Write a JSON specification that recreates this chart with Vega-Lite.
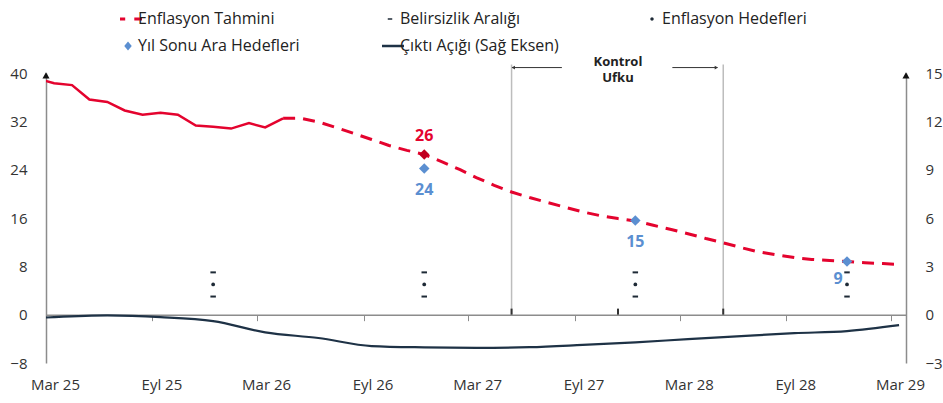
{
  "$schema": "https://vega.github.io/schema/vega-lite/v6.json",
  "width": 860,
  "height": 290,
  "autosize": {"type": "none"},
  "padding": {"left": 46, "top": 73, "right": 37, "bottom": 40},
  "background": "white",
  "config": {
    "view": {"stroke": null},
    "font": "Open Sans",
    "axis": {"grid": false, "labelFont": "Open Sans", "labelFontSize": 15, "labelColor": "#333333", "domainColor": "#8c8c8c", "domainWidth": 1.5, "tickColor": "#8c8c8c", "title": null}
  },
  "datasets": {
    "actual": [
      {"date": "2025-02-15", "v": 39.05},
      {"date": "2025-03-15", "v": 38.3},
      {"date": "2025-04-15", "v": 38.0},
      {"date": "2025-05-15", "v": 35.6},
      {"date": "2025-06-15", "v": 35.2},
      {"date": "2025-07-15", "v": 33.8},
      {"date": "2025-08-15", "v": 33.1},
      {"date": "2025-09-15", "v": 33.4},
      {"date": "2025-10-15", "v": 33.1},
      {"date": "2025-11-15", "v": 31.3},
      {"date": "2025-12-15", "v": 31.1},
      {"date": "2026-01-15", "v": 30.8},
      {"date": "2026-02-15", "v": 31.7},
      {"date": "2026-03-15", "v": 31.0},
      {"date": "2026-04-15", "v": 32.5}
    ],
    "forecast": [
      {"date": "2026-04-15", "v": 32.5},
      {"date": "2026-05-15", "v": 32.5},
      {"date": "2026-06-15", "v": 31.9},
      {"date": "2026-07-15", "v": 31.0},
      {"date": "2026-08-15", "v": 30.0},
      {"date": "2026-09-15", "v": 29.0},
      {"date": "2026-10-15", "v": 28.0},
      {"date": "2026-11-15", "v": 27.2},
      {"date": "2026-12-15", "v": 26.5},
      {"date": "2027-01-15", "v": 25.3},
      {"date": "2027-02-15", "v": 24.0},
      {"date": "2027-03-15", "v": 22.7},
      {"date": "2027-04-15", "v": 21.4},
      {"date": "2027-05-15", "v": 20.3},
      {"date": "2027-06-15", "v": 19.4},
      {"date": "2027-07-15", "v": 18.6},
      {"date": "2027-08-15", "v": 17.8},
      {"date": "2027-09-15", "v": 17.0},
      {"date": "2027-10-15", "v": 16.4},
      {"date": "2027-11-15", "v": 15.9},
      {"date": "2027-12-15", "v": 15.5},
      {"date": "2028-01-15", "v": 14.8},
      {"date": "2028-02-15", "v": 14.1},
      {"date": "2028-03-15", "v": 13.4},
      {"date": "2028-04-15", "v": 12.6},
      {"date": "2028-05-15", "v": 11.9},
      {"date": "2028-06-15", "v": 11.1},
      {"date": "2028-07-15", "v": 10.4},
      {"date": "2028-08-15", "v": 9.9},
      {"date": "2028-09-15", "v": 9.45},
      {"date": "2028-10-15", "v": 9.15},
      {"date": "2028-11-15", "v": 8.95},
      {"date": "2028-12-15", "v": 8.8},
      {"date": "2029-01-15", "v": 8.6},
      {"date": "2029-02-15", "v": 8.45},
      {"date": "2029-03-15", "v": 8.3}
    ],
    "gap": [
      {"date": "2025-02-15", "v": -0.2},
      {"date": "2025-03-15", "v": -0.15},
      {"date": "2025-06-15", "v": -0.05},
      {"date": "2025-09-15", "v": -0.15},
      {"date": "2025-12-15", "v": -0.4},
      {"date": "2026-03-15", "v": -1.1},
      {"date": "2026-06-15", "v": -1.45},
      {"date": "2026-09-15", "v": -1.95},
      {"date": "2026-12-15", "v": -2.03},
      {"date": "2027-03-15", "v": -2.06},
      {"date": "2027-06-15", "v": -2.02},
      {"date": "2027-09-15", "v": -1.88},
      {"date": "2027-12-15", "v": -1.72},
      {"date": "2028-03-15", "v": -1.52},
      {"date": "2028-06-15", "v": -1.33},
      {"date": "2028-09-15", "v": -1.15},
      {"date": "2028-12-15", "v": -1.02},
      {"date": "2029-03-15", "v": -0.65}
    ],
    "band": [
      {"date": "2025-12-15", "v": 3}, {"date": "2025-12-15", "v": 7},
      {"date": "2026-12-15", "v": 3}, {"date": "2026-12-15", "v": 7},
      {"date": "2027-12-15", "v": 3}, {"date": "2027-12-15", "v": 7},
      {"date": "2028-12-15", "v": 3}, {"date": "2028-12-15", "v": 7}
    ],
    "targets": [
      {"date": "2025-12-15", "v": 5},
      {"date": "2026-12-15", "v": 5},
      {"date": "2027-12-15", "v": 5},
      {"date": "2028-12-15", "v": 5}
    ],
    "interim": [
      {"date": "2026-12-15", "v": 24.2, "lab": "24"},
      {"date": "2027-12-15", "v": 15.6, "lab": "15"},
      {"date": "2028-12-15", "v": 8.8, "lab": "9"}
    ],
    "yearend": [
      {"date": "2026-12-15", "v": 26.5, "lab": "26"}
    ],
    "horizon": [
      {"date": "2027-05-15"},
      {"date": "2028-05-15"}
    ],
    "horizonTicks": [
      {"date": "2027-05-15"},
      {"date": "2027-11-15"},
      {"date": "2028-05-15"}
    ],
    "arrows": [
      {"a": "2027-05-16", "b": "2027-08-10", "v": 40.9},
      {"a": "2028-02-17", "b": "2028-05-05", "v": 40.9}
    ],
    "arrowHeads": [
      {"date": "2027-05-18", "v": 40.9, "dir": "triangle-left"},
      {"date": "2028-05-03", "v": 40.9, "dir": "triangle-right"}
    ],
    "horizonText": [
      {"date": "2027-11-15", "v": 41.8, "t": "Kontrol\nUfku"}
    ],
    "axisArrows": [
      {"date": "2025-03-01", "v": 39.6},
      {"date": "2029-03-27", "v": 39.6}
    ]
  },
  "layer": [
    {
      "layer": [
        {
          "data": {"name": "actual"},
          "mark": {"type": "line", "color": "#e4032e", "strokeWidth": 2.5, "clip": true},
          "encoding": {
            "x": {
              "field": "date", "type": "temporal",
              "scale": {"type": "utc", "domain": [{"year": 2025, "month": 3, "date": 1, "utc": true}, {"year": 2029, "month": 3, "date": 27, "utc": true}]},
              "axis": {
                "values": [
                  {"year": 2025, "month": 3, "date": 1, "utc": true},
                  {"year": 2025, "month": 9, "date": 1, "utc": true},
                  {"year": 2026, "month": 3, "date": 1, "utc": true},
                  {"year": 2026, "month": 9, "date": 1, "utc": true},
                  {"year": 2027, "month": 3, "date": 1, "utc": true},
                  {"year": 2027, "month": 9, "date": 1, "utc": true},
                  {"year": 2028, "month": 3, "date": 1, "utc": true},
                  {"year": 2028, "month": 9, "date": 1, "utc": true},
                  {"year": 2029, "month": 3, "date": 1, "utc": true}
                ],
                "labelExpr": "(utcmonth(datum.value) == 2 ? 'Mar ' : 'Eyl ') + utcFormat(datum.value, '%y')",
                "offset": -48.33,
                "tickSize": 6,
                "labelPadding": 57,
                "labelOffset": 9,
                "labelFlush": false,
                "labelOverlap": false,
                "title": null
              }
            },
            "y": {
              "field": "v", "type": "quantitative",
              "scale": {"domain": [-8, 40], "nice": false, "zero": false},
              "axis": {"values": [-8, 0, 8, 16, 24, 32, 40], "ticks": false, "labelPadding": 19, "title": null}
            }
          }
        },
        {
          "data": {"name": "horizon"},
          "mark": {"type": "rule", "color": "#bdbdbd", "strokeWidth": 1.5},
          "encoding": {
            "x": {"field": "date", "type": "temporal"},
            "y": {"datum": 0},
            "y2": {"datum": 41.4}
          }
        },
        {
          "data": {"name": "horizonTicks"},
          "mark": {"type": "rule", "color": "#333333", "strokeWidth": 2},
          "encoding": {
            "x": {"field": "date", "type": "temporal"},
            "y": {"datum": 0},
            "y2": {"datum": 1.0}
          }
        },
        {
          "data": {"name": "forecast"},
          "mark": {"type": "line", "strokeWidth": 3, "strokeDash": [12, 8]},
          "encoding": {
            "x": {"field": "date", "type": "temporal"},
            "y": {"field": "v", "type": "quantitative"},
            "color": {
              "datum": "Enflasyon Tahmini",
              "scale": {
                "domain": ["Enflasyon Tahmini", "Belirsizlik Aralığı", "Enflasyon Hedefleri", "Yıl Sonu Ara Hedefleri", "Çıktı Açığı (Sağ Eksen)"],
                "range": ["#e4032e", "#1e2a36", "#1e2a36", "#5b8fd1", "#1e3246"]
              },
              "legend": {
                "title": null,
                "orient": "none",
                "legendX": 74,
                "legendY": -64,
                "columns": 3,
                "direction": "horizontal",
                "gridAlign": "all",
                "padding": 0,
                "columnPadding": 82,
                "rowPadding": 7,
                "clipHeight": 20,
                "symbolSize": 784,
                "symbolStrokeWidth": 1.5,
                "labelOffset": 2,
                "labelFont": "Open Sans",
                "labelFontSize": 16,
                "labelColor": "#222222",
                "labelLimit": 300,
                "encode": {
                  "symbols": {
                    "update": {
                      "shape": {"signal": "datum.value === 'Enflasyon Tahmini' ? 'M-1,0H-0.2M0.45,0H1' : datum.value === 'Belirsizlik Aralığı' ? 'M-0.16,0H0.16' : datum.value === 'Enflasyon Hedefleri' ? 'M-0.12,0A0.12,0.12,0,1,1,0.12,0A0.12,0.12,0,1,1,-0.12,0Z' : datum.value === 'Yıl Sonu Ara Hedefleri' ? 'M0,-0.32L0.27,0L0,0.32L-0.27,0Z' : 'M-1,0H1'"},
                      "fill": {"signal": "datum.value === 'Enflasyon Hedefleri' ? '#1e2a36' : datum.value === 'Yıl Sonu Ara Hedefleri' ? '#5b8fd1' : 'transparent'"},
                      "stroke": {"signal": "datum.value === 'Enflasyon Tahmini' ? '#e4032e' : datum.value === 'Çıktı Açığı (Sağ Eksen)' ? '#1e3246' : datum.value === 'Belirsizlik Aralığı' ? '#1e2a36' : 'transparent'"},
                      "strokeWidth": {"signal": "datum.value === 'Enflasyon Tahmini' ? 3 : datum.value === 'Belirsizlik Aralığı' ? 1.6 : datum.value === 'Çıktı Açığı (Sağ Eksen)' ? 2.5 : 0"},
                      "strokeDash": {"value": [1, 0]},
                      "opacity": {"value": 1}
                    }
                  }
                }
              }
            }
          }
        },
        {
          "data": {"name": "band"},
          "mark": {"type": "point", "shape": "stroke", "filled": false, "size": 30, "strokeWidth": 2, "opacity": 1},
          "encoding": {
            "x": {"field": "date", "type": "temporal"},
            "y": {"field": "v", "type": "quantitative"},
            "color": {"datum": "Belirsizlik Aralığı"}
          }
        },
        {
          "data": {"name": "targets"},
          "mark": {"type": "point", "shape": "circle", "filled": true, "size": 14, "opacity": 1},
          "encoding": {
            "x": {"field": "date", "type": "temporal"},
            "y": {"field": "v", "type": "quantitative"},
            "color": {"datum": "Enflasyon Hedefleri"}
          }
        },
        {
          "data": {"name": "yearend"},
          "mark": {"type": "point", "shape": "diamond", "filled": true, "size": 110, "opacity": 1, "color": "#c00020"},
          "encoding": {
            "x": {"field": "date", "type": "temporal"},
            "y": {"field": "v", "type": "quantitative"}
          }
        },
        {
          "data": {"name": "interim"},
          "mark": {"type": "point", "shape": "diamond", "filled": true, "size": 110, "opacity": 1},
          "encoding": {
            "x": {"field": "date", "type": "temporal"},
            "y": {"field": "v", "type": "quantitative"},
            "color": {"datum": "Yıl Sonu Ara Hedefleri"}
          }
        },
        {
          "data": {"name": "yearend"},
          "mark": {"type": "text", "color": "#e4032e", "fontSize": 16, "fontWeight": "bold", "dy": -19, "font": "Open Sans"},
          "encoding": {
            "x": {"field": "date", "type": "temporal"},
            "y": {"field": "v", "type": "quantitative"},
            "text": {"field": "lab"}
          }
        },
        {
          "data": {"name": "interim"},
          "transform": [{"filter": "datum.lab !== '9'"}],
          "mark": {"type": "text", "color": "#5b8fd1", "fontSize": 16, "fontWeight": "bold", "dy": 22, "font": "Open Sans"},
          "encoding": {
            "x": {"field": "date", "type": "temporal"},
            "y": {"field": "v", "type": "quantitative"},
            "text": {"field": "lab"}
          }
        },
        {
          "data": {"name": "interim"},
          "transform": [{"filter": "datum.lab === '9'"}],
          "mark": {"type": "text", "color": "#5b8fd1", "fontSize": 16, "fontWeight": "bold", "dx": -9, "dy": 17, "font": "Open Sans"},
          "encoding": {
            "x": {"field": "date", "type": "temporal"},
            "y": {"field": "v", "type": "quantitative"},
            "text": {"field": "lab"}
          }
        },
        {
          "data": {"name": "arrows"},
          "mark": {"type": "rule", "color": "#333333", "strokeWidth": 1},
          "encoding": {
            "x": {"field": "a", "type": "temporal"},
            "x2": {"field": "b"},
            "y": {"field": "v", "type": "quantitative"}
          }
        },
        {
          "data": {"name": "arrowHeads"},
          "mark": {"type": "point", "filled": true, "size": 14, "opacity": 1, "color": "#333333"},
          "encoding": {
            "x": {"field": "date", "type": "temporal"},
            "y": {"field": "v", "type": "quantitative"},
            "shape": {"field": "dir", "type": "nominal", "scale": null, "legend": null}
          }
        },
        {
          "data": {"name": "horizonText"},
          "mark": {"type": "text", "fontSize": 13, "fontWeight": "bold", "color": "#222222", "lineBreak": "\n", "lineHeight": 16, "baseline": "middle", "font": "Open Sans"},
          "encoding": {
            "x": {"field": "date", "type": "temporal"},
            "y": {"field": "v", "type": "quantitative"},
            "text": {"field": "t"}
          }
        },
        {
          "data": {"name": "axisArrows"},
          "mark": {"type": "point", "shape": "triangle-up", "filled": true, "size": 50, "opacity": 1, "color": "#111111"},
          "encoding": {
            "x": {"field": "date", "type": "temporal"},
            "y": {"field": "v", "type": "quantitative"}
          }
        }
      ]
    },
    {
      "data": {"name": "gap"},
      "mark": {"type": "line", "strokeWidth": 2.2, "interpolate": "monotone", "clip": true},
      "encoding": {
        "x": {"field": "date", "type": "temporal"},
        "y": {
          "field": "v", "type": "quantitative",
          "scale": {"domain": [-3, 15], "nice": false, "zero": false},
          "axis": {"orient": "right", "values": [-3, 0, 3, 6, 9, 12, 15], "ticks": false, "labelPadding": 19, "title": null}
        },
        "color": {"datum": "Çıktı Açığı (Sağ Eksen)"}
      }
    }
  ],
  "resolve": {"scale": {"y": "independent"}}
}
